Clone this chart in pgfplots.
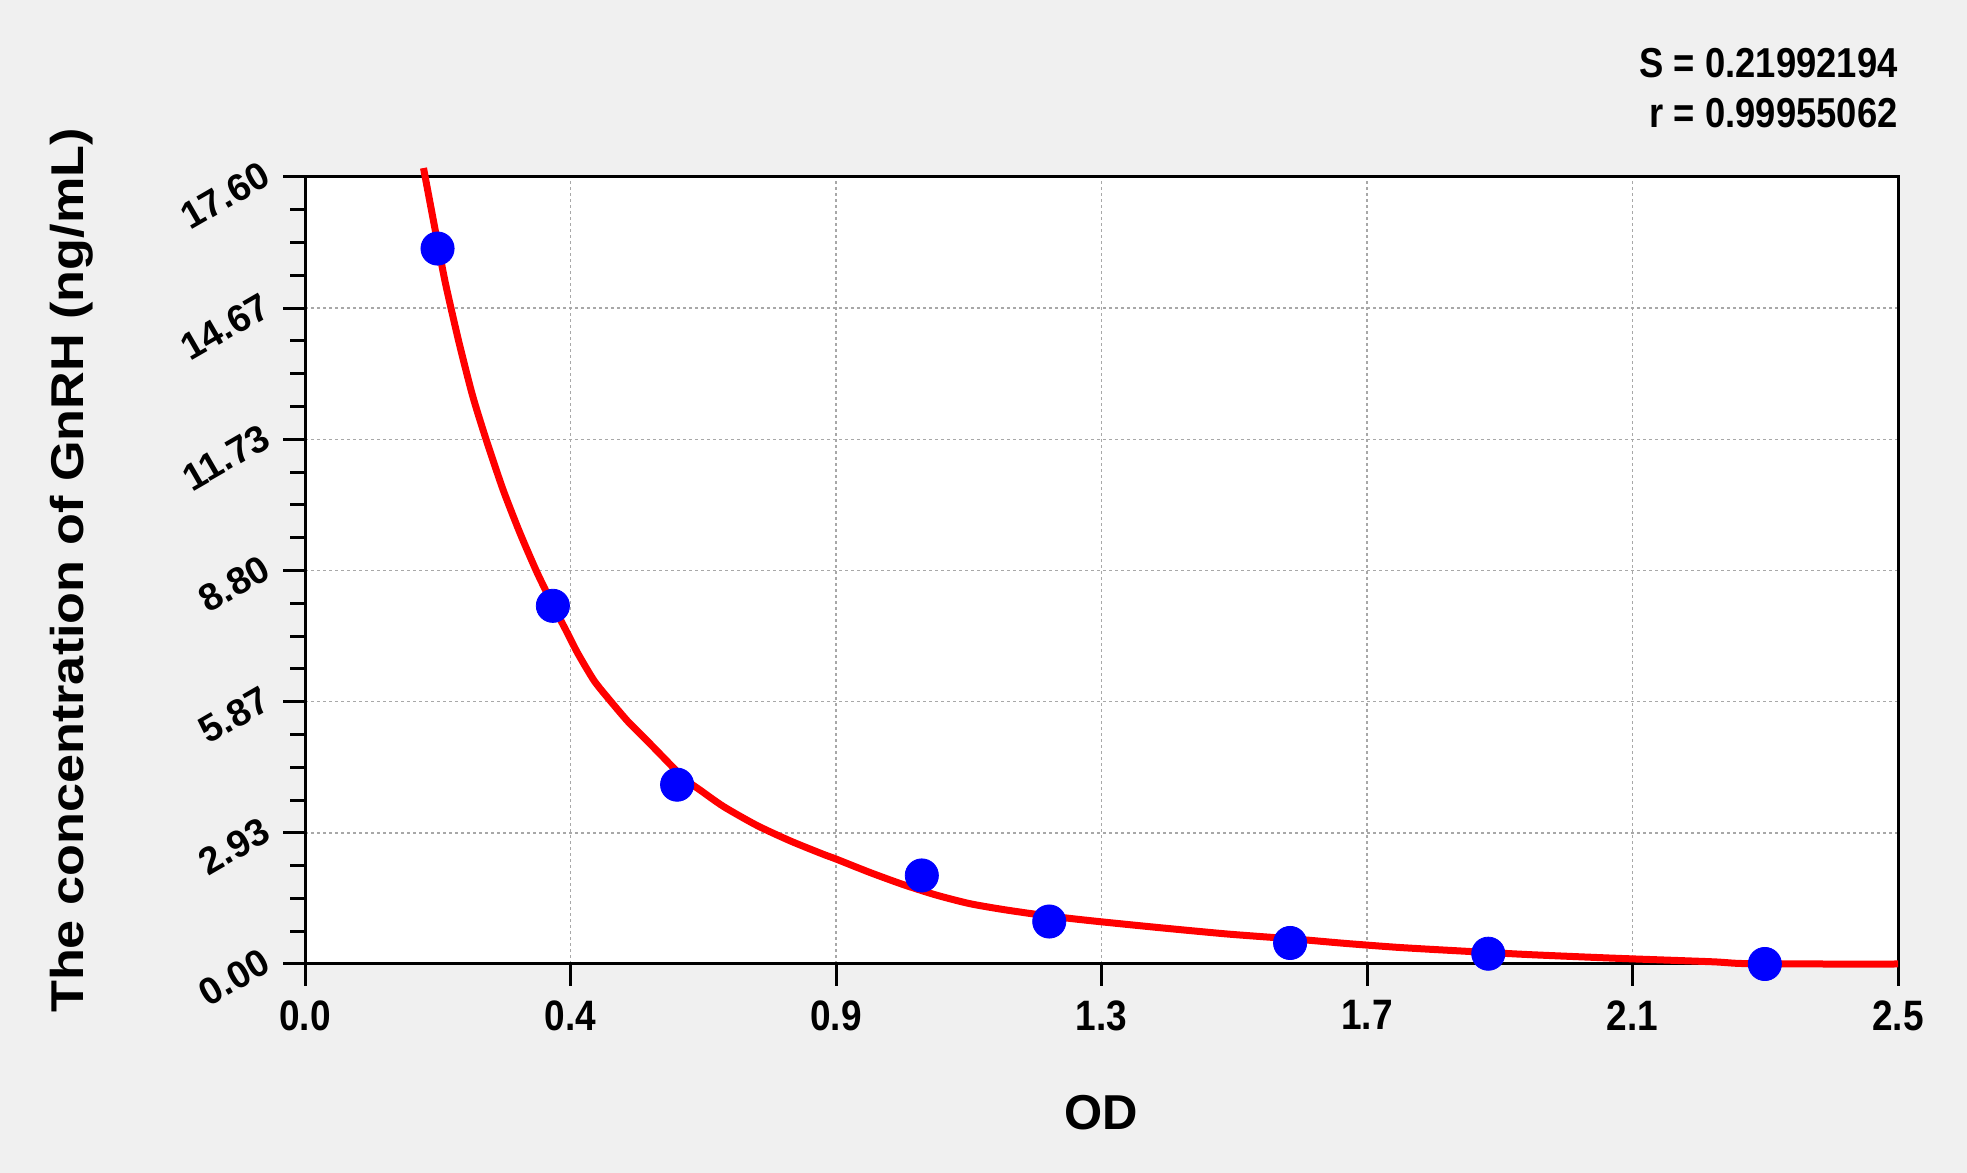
\documentclass[border=0pt]{standalone}
\usepackage{fontspec}
\setmainfont{Liberation Sans}
\usepackage{graphicx}
\usepackage{pgfplots}
\pgfplotsset{compat=1.18}
\definecolor{bgray}{HTML}{F0F0F0}
\definecolor{gridgray}{HTML}{A8A8A8}

\newcommand{\xt}[1]{\scalebox{1}[1.15]{#1}}

\begin{document}
\begin{tikzpicture}
  % page background
  \fill[bgray] (0,0) rectangle (983.5pt,586.5pt);

  \begin{axis}[
    at={(152.5pt,104.5pt)}, anchor=south west,
    scale only axis,
    width=796.5pt, height=393.5pt,
    xmin=0, xmax=2.5,
    ymin=0, ymax=17.6,
    clip=false,
    axis background/.style={fill=white},
    axis line style={line width=1.5pt},
    tick align=outside,
    tick pos=left,
    major tick length=10.8pt,
    minor tick length=7.5pt,
    every tick/.style={black, line width=1.5pt},
    minor tick num=3,
    grid=major,
    major grid style={dash pattern=on 1.5pt off 1.5pt, gridgray, line width=0.7pt},
    xtick={0,0.416667,0.833333,1.25,1.666667,2.083333,2.5},
    xticklabels={\xt{0.0},\xt{0.4},\xt{0.9},\xt{1.3},\xt{1.7},\xt{2.1},\xt{2.5}},
    ytick={0,2.933333,5.866667,8.8,11.733333,14.666667,17.6},
    yticklabels={0.00,2.93,5.87,8.80,11.73,14.67,17.60},
    xticklabel style={font=\fontsize{18.5}{22}\selectfont\bfseries, yshift=-4pt},
    yticklabel style={font=\fontsize{19}{22}\selectfont\bfseries, rotate=30, anchor=east, inner sep=0pt, xshift=-6pt, yshift=6.5pt},
    xlabel={OD},
    ylabel={\scalebox{1.135}[1]{The concentration of GnRH (ng/mL)}},
    every axis x label/.style={at={(rel axis cs:0.5,-0.189)}, anchor=center, font=\fontsize{24.5}{28}\selectfont\bfseries},
    every axis y label/.style={at={(rel axis cs:-0.1463,0.5)}, rotate=90, anchor=center, font=\fontsize{23}{27}\selectfont\bfseries},
  ]

  % standards
  \addplot[only marks, mark=*, mark size=8.3pt, mark options={draw=blue, fill=blue}] coordinates {
    (0.208,16.00)
    (0.389,8.01)
    (0.584,4.01)
    (0.968,1.98)
    (1.168,0.95)
    (1.546,0.47)
    (1.857,0.23)
    (2.291,0.00)
  };

  % fitted curve
  \addplot[red, line width=3.5pt, line join=round, no markers, smooth, tension=0.4] coordinates {
    (0.186,17.80)
    (0.204,16.44)
    (0.220,15.25)
    (0.2415,13.91)
    (0.263,12.71)
    (0.284,11.74)
    (0.3105,10.62)
    (0.337,9.65)
    (0.364,8.76)
    (0.390,8.00)
    (0.410,7.45)
    (0.428,6.95)
    (0.454,6.33)
    (0.480,5.87)
    (0.507,5.42)
    (0.533,5.05)
    (0.559,4.67)
    (0.595,4.15)
    (0.621,3.88)
    (0.657,3.52)
    (0.709,3.10)
    (0.762,2.75)
    (0.814,2.45)
    (0.833,2.35)
    (0.886,2.05)
    (0.938,1.78)
    (0.991,1.54)
    (1.043,1.35)
    (1.095,1.22)
    (1.148,1.11)
    (1.200,1.02)
    (1.252,0.94)
    (1.343,0.81)
    (1.448,0.67)
    (1.560,0.55)
    (1.633,0.46)
    (1.717,0.37)
    (1.815,0.29)
    (1.921,0.21)
    (2.054,0.13)
    (2.208,0.05)
    (2.257,0.01)
    (2.380,0.00)
    (2.500,0.00)
  };

  \node[anchor=east, inner sep=0pt, align=right, font=\fontsize{18.2}{21}\selectfont\bfseries]
    at (rel axis cs:1,1) [yshift=57pt] {\scalebox{1}[1.15]{S = 0.21992194}};
  \node[anchor=east, inner sep=0pt, align=right, font=\fontsize{18.2}{21}\selectfont\bfseries]
    at (rel axis cs:1,1) [yshift=32pt] {\scalebox{1}[1.15]{r = 0.99955062}};
  \end{axis}
\end{tikzpicture}
\end{document}
